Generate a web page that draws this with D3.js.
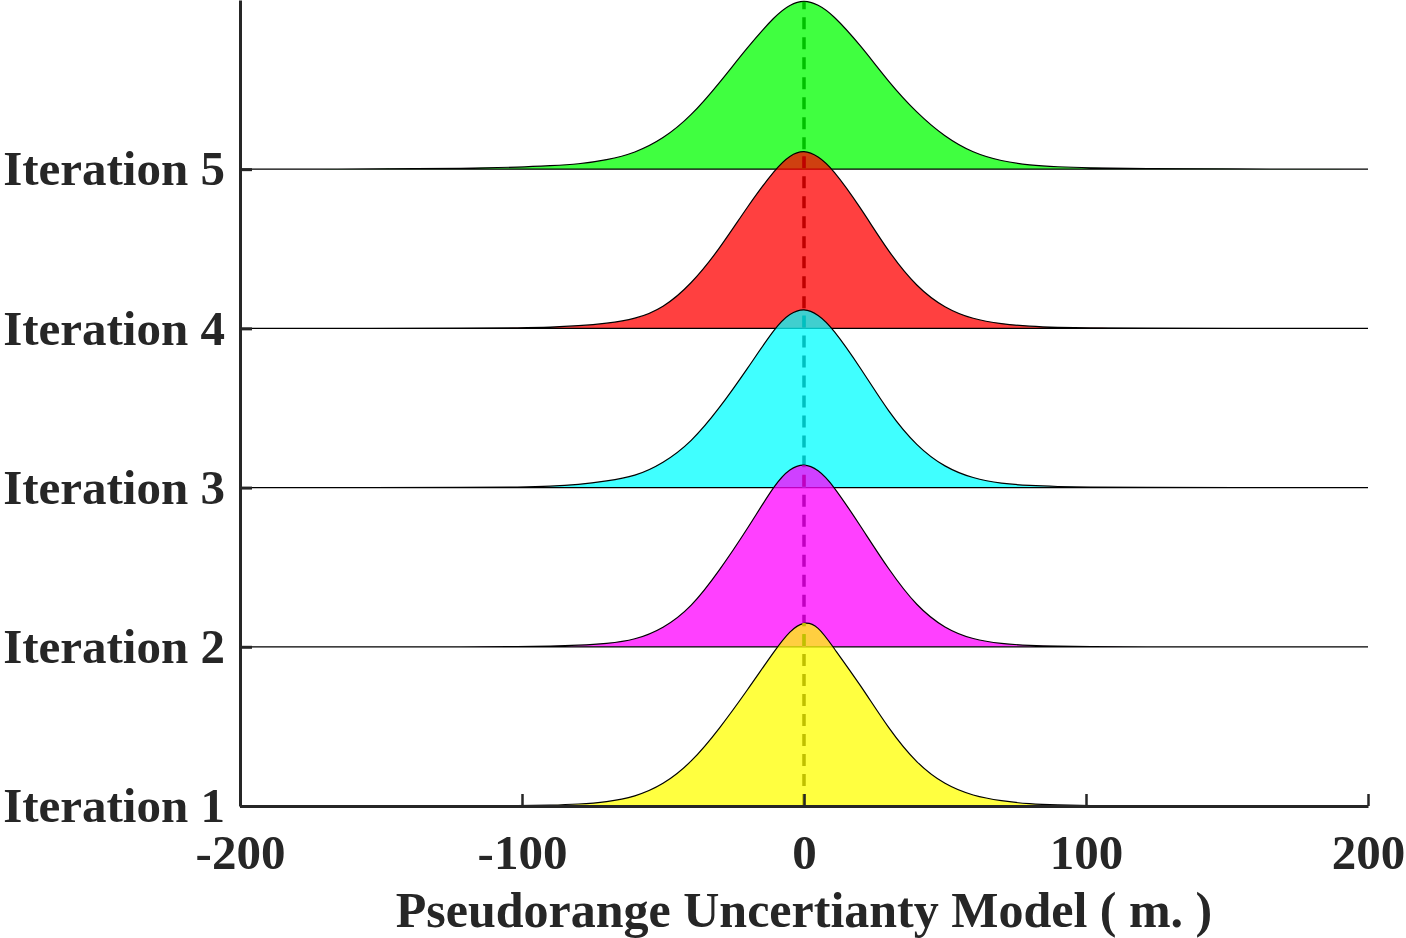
<!DOCTYPE html>
<html>
<head>
<meta charset="utf-8">
<style>
  body { margin: 0; background: #fff; }
  svg text { font-family: "Liberation Serif", "Times New Roman", serif; font-weight: bold; fill: #262626; }
</style>
</head>
<body>
<script src="https://d3js.org/d3.v7.min.js"></script>
<script>
// x grid (m) shared by every ridge
const xValues = [-200, -150, -120, -100, -90, -80, -70, -60, -50, -40, -30, -20, -10, -5, 0,
                 5, 10, 20, 30, 40, 50, 60, 70, 80, 90, 100, 120, 150, 200];

// densities, in 1e-3 per metre
const iter1 = [0, 0, 0, 0.03, 0.08, 0.18, 0.40, 0.91, 2.11, 4.33, 7.75, 11.67, 15.80, 17.61, 18.60,
               18.10, 16.10, 12.18, 7.75, 4.23, 2.11, 1.01, 0.50, 0.20, 0.10, 0.05, 0, 0, 0];
const iter2 = [0, 0, 0, 0.02, 0.06, 0.15, 0.32, 0.68, 1.81, 3.92, 7.65, 11.87, 16.50, 17.91, 18.45,
               17.81, 16.40, 12.17, 7.75, 4.02, 1.81, 0.72, 0.30, 0.13, 0.05, 0.02, 0, 0, 0];
const iter3 = [0, 0, 0.01, 0.05, 0.12, 0.30, 0.65, 1.11, 2.42, 4.53, 7.95, 11.97, 16.20, 17.51, 18.05,
               17.41, 16.10, 12.08, 7.55, 4.13, 2.01, 0.91, 0.40, 0.20, 0.10, 0.04, 0.01, 0, 0];
const iter4 = [0, 0, 0.01, 0.05, 0.10, 0.25, 0.50, 0.91, 2.01, 4.43, 7.95, 12.28, 16.10, 17.41, 17.95,
               17.31, 16.10, 12.18, 7.65, 4.13, 2.01, 0.91, 0.45, 0.20, 0.10, 0.05, 0.01, 0, 0];
const iter5 = [0, 0.02, 0.08, 0.20, 0.35, 0.50, 0.91, 1.61, 3.02, 5.33, 8.65, 12.28, 15.50, 16.55, 17.02,
               16.55, 15.60, 12.48, 8.75, 5.64, 3.22, 1.61, 0.80, 0.40, 0.23, 0.13, 0.05, 0.02, 0];

const seriesNames = ['Iteration 1', 'Iteration 2', 'Iteration 3', 'Iteration 4', 'Iteration 5'];
const seriesValues = [iter1, iter2, iter3, iter4, iter5];
const seriesColors = ['#ffff00', '#ff00ff', '#00ffff', '#ff0000', '#00ff00'];
const xTicks = [-200, -100, 0, 100, 200];
const xTitle = 'Pseudorange Uncertianty Model ( m. )';

const WIDTH = 1406, HEIGHT = 938;
const BAND = 16;   // vertical offset between ridges, same units as the densities

const svg = d3.select('body').append('svg')
  .attr('width', WIDTH).attr('height', HEIGHT);

const x = d3.scaleLinear().domain([-200, 200]).range([240, 1368]);
const y = d3.scaleLinear().domain([0, 81]).range([806, 0]);

const area = d3.area()
  .x(d => x(d.x))
  .y0(d => y(d.base))
  .y1(d => y(d.base + d.v))
  .curve(d3.curveBasis);

// draw top ridge first so lower ones sit on top
const order = d3.range(seriesNames.length).reverse();
order.forEach(i => {
  const base = i * BAND;
  const pts = xValues.map((xv, j) => ({ x: xv, v: seriesValues[i][j], base: base }));
  const g = svg.append('g');
  g.append('path')
    .datum(pts)
    .attr('d', area)
    .attr('fill', seriesColors[i])
    .attr('fill-opacity', 0.75)
    .attr('stroke', '#000')
    .attr('stroke-width', 1.2);
  // dashed mean line from baseline up to peak
  g.append('line')
    .attr('x1', x(0)).attr('x2', x(0))
    .attr('y1', y(base)).attr('y2', y(base + d3.max(seriesValues[i]) - 0.2))
    .attr('stroke', d3.rgb(seriesColors[i]).darker(0.8))
    .attr('stroke-width', 3.5)
    .attr('stroke-dasharray', '12,8');
});

// y axis (ridge labels)
const yAxis = d3.axisLeft(y)
  .tickValues(seriesNames.map((n, i) => i * BAND))
  .tickFormat((d, i) => seriesNames[i])
  .tickSizeInner(-12)
  .tickSizeOuter(0)
  .tickPadding(15);

const gy = svg.append('g').attr('transform', `translate(${x(-200)},0)`).call(yAxis);
gy.select('.domain').attr('stroke', '#262626').attr('stroke-width', 3);
gy.selectAll('.tick line').attr('stroke', '#262626').attr('stroke-width', 3);
gy.selectAll('.tick text').attr('font-size', 49).attr('fill', '#262626');

// x axis
const xAxis = d3.axisBottom(x)
  .tickValues(xTicks)
  .tickFormat(d3.format('d'))
  .tickSizeInner(-12)
  .tickSizeOuter(0)
  .tickPadding(28);

const gx = svg.append('g').attr('transform', `translate(0,${y(0)})`).call(xAxis);
gx.select('.domain').attr('stroke', '#262626').attr('stroke-width', 3);
gx.selectAll('.tick line').attr('stroke', '#262626').attr('stroke-width', 2.5);
gx.selectAll('.tick text').attr('font-size', 49).attr('fill', '#262626')
  .text(d => d < 0 ? '-' + Math.abs(d) : d);

svg.selectAll('g text').attr('font-family', '"Liberation Serif", "Times New Roman", serif').attr('font-weight', 'bold');

svg.append('text')
  .attr('x', x(0))
  .attr('y', 927)
  .attr('text-anchor', 'middle')
  .attr('font-size', 50)
  .text(xTitle);
</script>
</body>
</html>
